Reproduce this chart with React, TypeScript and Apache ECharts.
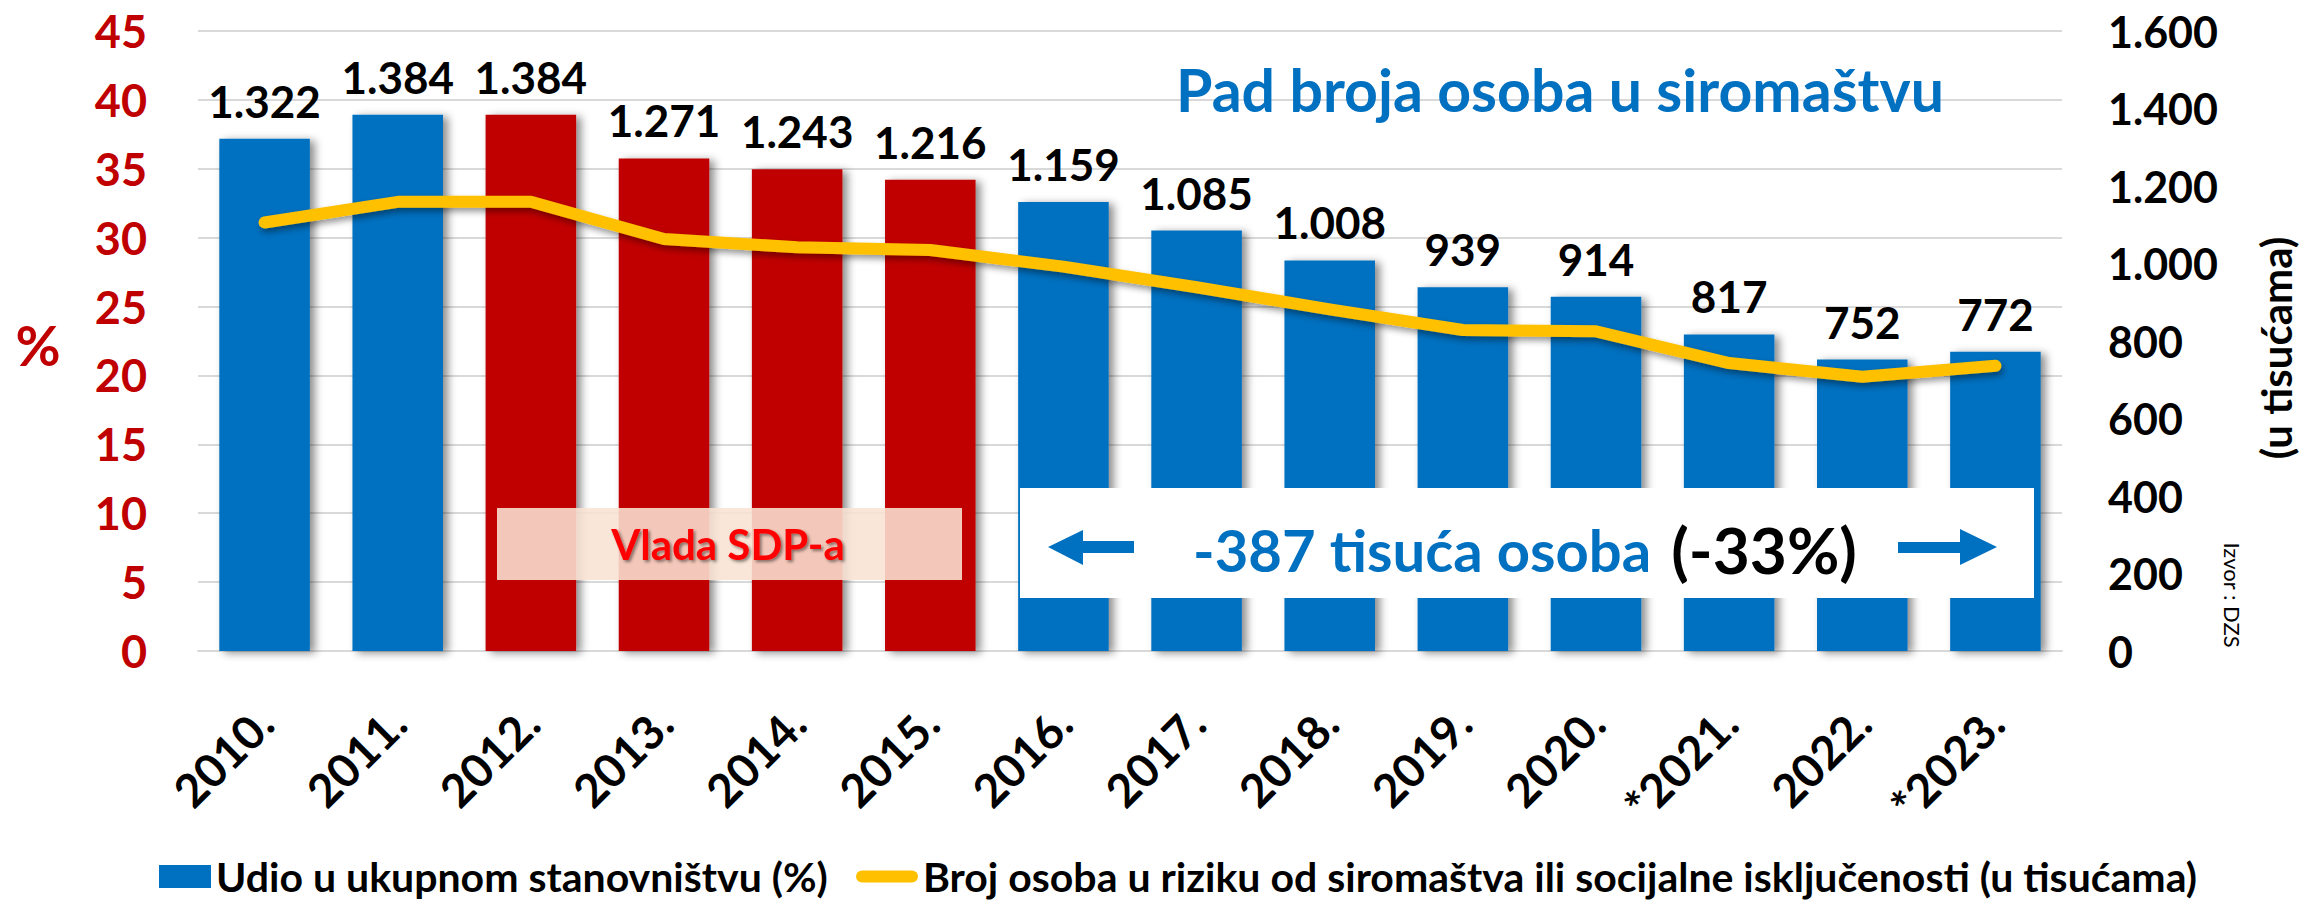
import React, { useEffect, useRef } from "react";
import * as echarts from "echarts";

const years = ["2010.", "2011.", "2012.", "2013.", "2014.", "2015.", "2016.", "2017.", "2018.", "2019.", "2020.", "*2021.", "2022.", "*2023."];
const personsThousands = [1322, 1384, 1384, 1271, 1243, 1216, 1159, 1085, 1008, 939, 914, 817, 752, 772];
const sharePercent = [31.1, 32.6, 32.6, 29.9, 29.3, 29.1, 27.9, 26.4, 24.8, 23.3, 23.2, 20.9, 19.9, 20.7];
const sdpYears = ["2012.", "2013.", "2014.", "2015."];

const barName = "Udio u ukupnom stanovništvu (%)";
const lineName = "Broj osoba u riziku od siromaštva ili socijalne isključenosti (u tisućama)";
const titleText = "Pad broja osoba u siromaštvu";
const govText = "Vlada SDP-a";
const changeText = "-387 tisuća osoba";
const changePct = "(-33%)";
const sourceText = "Izvor : DZS";
const rightAxisName = "(u tisućama)";
const leftAxisName = "%";

const FONT = "Lato, 'Open Sans', sans-serif";
const BLUE = "#0070C0";
const RED = "#C00000";
const YELLOW = "#FFC000";
const GRID = "#D9D9D9";

const fmtThousands = (v: number) => {
  const s = String(Math.round(v));
  return s.replace(/\B(?=(\d{3})+(?!\d))/g, ".");
};

export default function App() {
  const ref = useRef<HTMLDivElement>(null);
  useEffect(() => {
    if (!ref.current) return;
    const chart = echarts.init(ref.current, undefined, { renderer: "svg" });
    const barData = personsThousands.map((v, i) =>
      sdpYears.includes(years[i]) ? { value: v, itemStyle: { color: RED } } : { value: v }
    );
    const legendText = { fontFamily: FONT, fontSize: 41, fontWeight: "bold", color: "#000" };
    chart.setOption({
      animation: false,
      backgroundColor: "#fff",
      textStyle: { fontFamily: FONT },
      grid: { left: 198, right: 243, top: 31, bottom: 252, containLabel: false },
      legend: [
        {
          data: [{ name: barName, icon: "rect" }],
          left: 159,
          top: 856,
          itemWidth: 52,
          itemHeight: 23,
          itemGap: 0,
          padding: 0,
          textStyle: legendText,
          selectedMode: false,
        },
        {
          data: [{ name: lineName, icon: "path://M6,0H56A6,6,0,0,1,56,12H6A6,6,0,0,1,6,0Z" }],
          left: 856,
          top: 856,
          itemWidth: 62,
          itemHeight: 12,
          itemGap: 0,
          padding: 0,
          textStyle: legendText,
          selectedMode: false,
        },
      ],
      xAxis: {
        type: "category",
        data: years,
        axisLine: { lineStyle: { color: GRID, width: 2 } },
        axisTick: { show: false },
        axisLabel: {
          interval: 0,
          rotate: 45,
          margin: 64,
          fontFamily: FONT,
          fontSize: 46,
          fontWeight: "bold",
          color: "#000",
        },
      },
      yAxis: [
        {
          type: "value",
          position: "left",
          min: 0,
          max: 45,
          interval: 5,
          axisLine: { show: false },
          axisTick: { show: false },
          axisLabel: { fontFamily: FONT, fontSize: 45, fontWeight: "bold", color: RED, margin: 51 },
          splitLine: { lineStyle: { color: GRID, width: 2 } },
        },
        {
          type: "value",
          position: "right",
          min: 0,
          max: 1600,
          interval: 200,
          axisLine: { show: false },
          axisTick: { show: false },
          axisLabel: {
            fontFamily: FONT,
            fontSize: 43,
            fontWeight: "bold",
            color: "#000",
            margin: 46,
            formatter: (v: number) => fmtThousands(v),
          },
          splitLine: { show: false },
        },
      ],
      series: [
        {
          name: barName,
          type: "bar",
          yAxisIndex: 1,
          data: barData,
          barWidth: "68%",
          itemStyle: {
            color: BLUE,
            shadowColor: "rgba(0,0,0,0.45)",
            shadowBlur: 8,
            shadowOffsetX: 5,
            shadowOffsetY: 2,
          },
          label: {
            show: true,
            position: "top",
            distance: 16,
            fontFamily: FONT,
            fontSize: 44,
            fontWeight: "bold",
            color: "#000",
            formatter: (p: any) => fmtThousands(p.value),
          },
          z: 2,
        },
        {
          name: lineName,
          type: "line",
          yAxisIndex: 0,
          data: sharePercent,
          symbol: "none",
          itemStyle: { color: YELLOW },
          lineStyle: {
            color: YELLOW,
            width: 12,
            cap: "round",
            join: "round",
            shadowColor: "rgba(0,0,0,0.4)",
            shadowBlur: 6,
            shadowOffsetY: 4,
            shadowOffsetX: 2,
          },
          z: 3,
        },
      ],
      graphic: [
        {
          type: "text",
          x: 1560,
          y: 89,
          z: 100,
          style: {
            text: titleText,
            fill: BLUE,
            fontFamily: FONT,
            fontSize: 59,
            fontWeight: "bold",
            align: "center",
            verticalAlign: "middle",
          },
        },
        {
          type: "rect",
          z: 100,
          shape: { x: 497, y: 508, width: 465, height: 72 },
          style: { fill: "rgba(249,227,211,0.88)" },
        },
        {
          type: "text",
          x: 728,
          y: 544,
          z: 101,
          style: {
            text: govText,
            fill: "#FF0000",
            fontFamily: FONT,
            fontSize: 42,
            fontWeight: "bold",
            align: "center",
            verticalAlign: "middle",
            textShadowColor: "rgba(0,0,0,0.45)",
            textShadowBlur: 3,
            textShadowOffsetX: 2,
            textShadowOffsetY: 2,
          },
        },
        {
          type: "rect",
          z: 100,
          shape: { x: 1020, y: 488, width: 1014, height: 110 },
          style: { fill: "#fff" },
        },
        {
          type: "polygon",
          z: 101,
          shape: {
            points: [
              [1048, 547],
              [1083, 530],
              [1083, 541],
              [1134, 541],
              [1134, 553],
              [1083, 553],
              [1083, 565],
            ],
          },
          style: { fill: BLUE },
        },
        {
          type: "polygon",
          z: 101,
          shape: {
            points: [
              [1997, 547],
              [1960, 529],
              [1960, 542],
              [1898, 542],
              [1898, 553],
              [1960, 553],
              [1960, 565],
            ],
          },
          style: { fill: BLUE },
        },
        {
          type: "text",
          x: 1525,
          y: 549,
          z: 101,
          style: {
            text: "{a|" + changeText + "}{s| }{b|" + changePct + "}",
            align: "center",
            verticalAlign: "middle",
            rich: {
              a: { fill: BLUE, fontFamily: FONT, fontSize: 58, fontWeight: "bold", verticalAlign: "middle" },
              s: { fontFamily: FONT, fontSize: 58, verticalAlign: "middle", width: 20 },
              b: { fill: "#000", fontFamily: FONT, fontSize: 64, fontWeight: "bold", verticalAlign: "middle" },
            },
          },
        },
        {
          type: "text",
          x: 38,
          y: 345,
          z: 100,
          style: {
            text: leftAxisName,
            fill: RED,
            fontFamily: FONT,
            fontSize: 55,
            fontWeight: "bold",
            align: "center",
            verticalAlign: "middle",
          },
        },
        {
          type: "text",
          x: 2276,
          y: 348,
          rotation: Math.PI / 2,
          z: 100,
          style: {
            text: rightAxisName,
            fill: "#000",
            fontFamily: FONT,
            fontSize: 42,
            fontWeight: "bold",
            align: "center",
            verticalAlign: "middle",
          },
        },
        {
          type: "text",
          x: 2232,
          y: 595,
          rotation: -Math.PI / 2,
          z: 100,
          style: {
            text: sourceText,
            fill: "#000",
            fontFamily: FONT,
            fontSize: 22,
            align: "center",
            verticalAlign: "middle",
          },
        },
      ],
    });
    return () => chart.dispose();
  }, []);
  return (
    <div
      ref={ref}
      style={{ position: "fixed", left: 0, top: 0, width: 2305, height: 903, background: "#fff" }}
    />
  );
}
